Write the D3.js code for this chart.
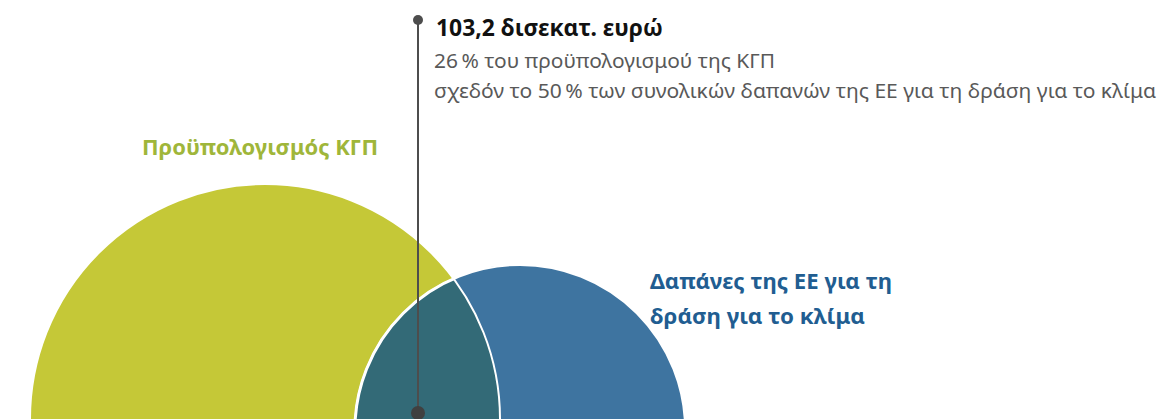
<!DOCTYPE html>
<html>
<head>
<meta charset="utf-8">
<script src="https://cdn.jsdelivr.net/npm/d3@7"></script>
<style>
  html, body { margin: 0; padding: 0; background: #ffffff; }
  svg { display: block; }
</style>
</head>
<body>
<div id="chart"></div>
<script>
// data (δισεκατ. ευρώ)
const setNames = ['Προϋπολογισμός ΚΓΠ', 'Δαπάνες της ΕΕ για τη δράση για το κλίμα'];
const setValues = [397, 196];
const overlapValue = 103.2;
const calloutTitle = '103,2 δισεκατ. ευρώ';
const calloutLines = ['26\u202f% του προϋπολογισμού της ΚΓΠ', 'σχεδόν το 50\u202f% των συνολικών δαπανών της ΕΕ για τη δράση για το κλίμα'];
const setLabelLines = [['Προϋπολογισμός ΚΓΠ'], ['Δαπάνες της ΕΕ για τη', 'δράση για το κλίμα']];

const width = 1161, height = 419;
const colors = ['#c5c837', '#3e74a0'];
const overlapColor = '#336a77';
const font = '"Noto Sans", "Open Sans", sans-serif';

const svg = d3.select('#chart')
    .append('svg')
    .attr('width', width)
    .attr('height', height);

// circle area ~ value
const r = d3.scaleSqrt().domain([0, setValues[0]]).range([0, 235]);

// layout of the two circles
const centers = [{x: 265, y: 419}, {x: 520, y: 430}];
const circles = setValues.map((v, i) => ({
    name: setNames[i],
    cx: centers[i].x,
    cy: centers[i].y,
    r: r(v),
    color: colors[i]
}));

const defs = svg.append('defs');
circles.forEach((c, i) => {
    defs.append('clipPath')
        .attr('id', 'clip' + i)
        .append('circle')
        .attr('cx', c.cx)
        .attr('cy', c.cy)
        .attr('r', c.r);
});

svg.append('g')
    .selectAll('circle')
    .data(circles)
    .enter()
    .append('circle')
    .attr('cx', (d) => d.cx)
    .attr('cy', (d) => d.cy)
    .attr('r', (d) => d.r)
    .attr('fill', (d) => d.color)
    .attr('stroke', '#ffffff')
    .attr('stroke-width', 2);

// overlap: blue circle clipped to yellow circle
svg.append('g')
    .attr('clip-path', 'url(#clip0)')
    .append('circle')
    .attr('cx', circles[1].cx)
    .attr('cy', circles[1].cy)
    .attr('r', circles[1].r)
    .attr('fill', overlapColor)
    .attr('stroke', '#ffffff')
    .attr('stroke-width', 3);

// yellow edge running through the blue circle
svg.append('g')
    .attr('clip-path', 'url(#clip1)')
    .append('circle')
    .attr('cx', circles[0].cx)
    .attr('cy', circles[0].cy)
    .attr('r', circles[0].r)
    .attr('fill', 'none')
    .attr('stroke', '#ffffff')
    .attr('stroke-width', 2);

// set labels
const labelPos = [{x: 142, y: 155, lens: [236]}, {x: 650, y: 289, lens: [242, 215]}];
const labelColors = ['#9fb63a', '#215d91'];
setLabelLines.forEach((lines, i) => {
    lines.forEach((t, j) => {
        svg.append('text')
            .attr('x', labelPos[i].x)
            .attr('y', labelPos[i].y + j * 35)
            .attr('font-family', font)
            .attr('font-weight', 'bold')
            .attr('font-size', 21.5)
            .attr('fill', labelColors[i])
            .attr('textLength', labelPos[i].lens[j])
            .attr('lengthAdjust', 'spacingAndGlyphs')
            .text(t);
    });
});

// callout line for the overlap
const lineX = 418;
svg.append('line')
    .attr('x1', lineX).attr('x2', lineX)
    .attr('y1', 20).attr('y2', 413)
    .attr('stroke', '#4d4d4d')
    .attr('stroke-width', 2);
svg.append('circle')
    .attr('cx', lineX).attr('cy', 20).attr('r', 5)
    .attr('fill', '#4d4d4d');
svg.append('circle')
    .attr('cx', lineX).attr('cy', 413).attr('r', 7)
    .attr('fill', '#404040');

svg.append('text')
    .attr('x', 436)
    .attr('y', 36)
    .attr('font-family', font)
    .attr('font-weight', 'bold')
    .attr('font-size', 23)
    .attr('fill', '#111111')
    .attr('textLength', 227)
    .attr('lengthAdjust', 'spacingAndGlyphs')
    .text(calloutTitle);

const calloutLens = [341, 722];
calloutLines.forEach((t, j) => {
    svg.append('text')
        .attr('x', 434)
        .attr('y', 68 + j * 30)
        .attr('font-family', font)
        .attr('font-size', 20.5)
        .attr('fill', '#595959')
        .attr('textLength', calloutLens[j])
        .attr('lengthAdjust', 'spacingAndGlyphs')
        .text(t);
});
</script>
</body>
</html>
